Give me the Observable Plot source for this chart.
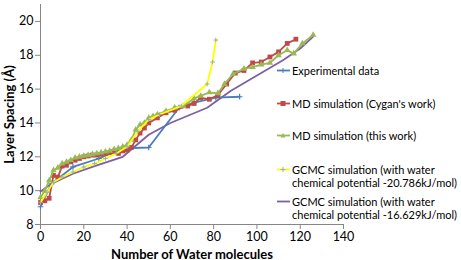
<!DOCTYPE html>
<html><head><meta charset="utf-8">
<script src="https://cdn.jsdelivr.net/npm/d3@7"></script>
<script src="https://cdn.jsdelivr.net/npm/@observablehq/plot@0.6"></script>
<style>
body{margin:0;background:#fff;font-family:Lato,"Open Sans",sans-serif;}
#wrap{position:relative;width:461px;height:260px;overflow:hidden;}
#wrap svg{position:absolute;left:0;top:0;}
svg [aria-label="x-axis label"], svg [aria-label="y-axis label"]{font-weight:bold;font-size:13px;}
svg [aria-label="x-axis tick label"], svg [aria-label="y-axis tick label"]{font-size:12.5px;}
.leg{position:absolute;left:276px;font-size:11px;color:#000;line-height:13px;white-space:nowrap;}
.leg svg{position:absolute;left:0;top:0;}
.leg span{position:absolute;left:16px;top:0;}
</style></head><body><div id="wrap"></div>
<script>
// ---- data ----
const xTicks = [0, 20, 40, 60, 80, 100, 120, 140];
const yTicks = [8, 10, 12, 14, 16, 18, 20];

const expX = [0, 5, 15, 27, 38, 50, 64, 71, 81, 92];
const expY = [9.05, 10.4, 11.4, 11.9, 12.5, 12.55, 14.9, 15.2, 15.5, 15.55];

const cygX = [0, 2, 4, 6, 8, 10, 12, 14, 16, 18, 20, 22, 24, 26, 28, 30, 32, 34, 36, 38, 40, 42, 44, 46, 48, 50, 54, 58, 62, 68, 71, 74, 78, 82, 86, 90, 94, 98, 102, 106, 110, 114, 118];
const cygY = [9.3, 9.4, 9.55, 10.9, 10.8, 11.45, 11.5, 11.7, 11.8, 11.9, 12.0, 12.05, 12.1, 12.1, 12.15, 12.2, 12.25, 12.3, 12.2, 12.35, 12.4, 12.55, 13.0, 13.4, 13.7, 14.0, 14.3, 14.6, 14.75, 15.0, 15.15, 15.5, 15.4, 15.65, 16.3, 16.95, 17.1, 17.55, 17.6, 17.9, 18.2, 18.7, 18.95];

const mdX = [0, 2, 4, 6, 8, 10, 12, 14, 16, 18, 20, 22, 24, 26, 28, 30, 32, 34, 36, 38, 40, 42, 44, 46, 48, 50, 52, 54, 58, 62, 66, 71, 74, 78, 82, 85, 89, 94, 98, 102, 106, 110, 114, 117, 121, 126];
const mdY = [9.6, 10.0, 10.6, 11.2, 11.35, 11.6, 11.7, 11.8, 11.95, 12.0, 12.05, 12.1, 12.15, 12.2, 12.25, 12.3, 12.35, 12.45, 12.5, 12.6, 12.7, 13.0, 13.6, 13.9, 14.0, 14.3, 14.4, 14.5, 14.7, 14.9, 15.0, 15.45, 15.6, 15.8, 15.75, 16.3, 16.9, 17.2, 17.3, 17.45, 17.55, 18.0, 18.3, 18.1, 18.7, 19.2];

const g1X = [0, 3, 6, 10, 15, 20, 25, 30, 35, 40, 45, 50, 55, 65, 77, 79.5, 81];
const g1Y = [9.3, 9.9, 10.5, 10.8, 11.1, 11.4, 11.6, 11.9, 12.2, 12.6, 13.5, 14.2, 14.5, 15.0, 16.3, 17.6, 18.9];

const g2X = [0, 5, 10, 15, 25, 38, 50, 60, 77, 88, 100, 112, 120, 126];
const g2Y = [9.95, 10.4, 10.7, 11.0, 11.45, 12.0, 13.3, 14.0, 14.9, 15.9, 16.8, 17.7, 18.4, 19.1];

const seriesNames = ["Experimental data", "MD simulation (Cygan's work)", "MD simulation (this work)",
  "GCMC simulation (with water\nchemical potential -20.786kJ/mol)",
  "GCMC simulation (with water\nchemical potential -16.629kJ/mol)"];
const seriesColors = ["#4A7EBB", "#BE4B48", "#98B954", "#FFFF00", "#7D60A0"];

// ---- build ----
const toRows = (xs, ys) => xs.map((x, i) => ({x, y: ys[i]}));
const exp = toRows(expX, expY), cyg = toRows(cygX, cygY), md = toRows(mdX, mdY),
      g1 = toRows(g1X, g1Y), g2 = toRows(g2X, g2Y);
const axisColor = "#868686";

const chart = Plot.plot({
  width: 461, height: 260,
  marginLeft: 40, marginRight: 118, marginTop: 4, marginBottom: 36,
  style: {fontFamily: "Lato, 'Open Sans', sans-serif", background: "transparent", color: "#000"},
  x: {domain: [0, 140]},
  y: {domain: [8, 21]},
  marks: [
    Plot.axisX({ticks: xTicks, tickSize: 5, tickPadding: 3, stroke: axisColor,
      label: "Number of Water molecules", labelAnchor: "center", labelArrow: "none", labelOffset: 34}),
    Plot.axisY({ticks: yTicks, tickSize: 5, tickPadding: 2, stroke: axisColor,
      label: "Layer Spacing (Å)", labelAnchor: "center", labelArrow: "none", labelOffset: 36}),
    Plot.ruleX([0], {stroke: axisColor}),
    Plot.ruleY([8], {stroke: axisColor}),
    Plot.line(g2, {x: "x", y: "y", stroke: seriesColors[4], strokeWidth: 1.8}),
    Plot.line(exp, {x: "x", y: "y", stroke: seriesColors[0], strokeWidth: 1.8}),
    Plot.dot(exp, {x: "x", y: "y", symbol: "plus", r: 2, stroke: seriesColors[0], strokeWidth: 1.2}),
    Plot.line(cyg, {x: "x", y: "y", stroke: seriesColors[1], strokeWidth: 1.8}),
    Plot.dot(cyg, {x: "x", y: "y", symbol: "square", r: 2.7, fill: seriesColors[1], stroke: "none"}),
    Plot.line(md, {x: "x", y: "y", stroke: seriesColors[2], strokeWidth: 1.8}),
    Plot.dot(md, {x: "x", y: "y", symbol: "triangle", r: 2.4, fill: seriesColors[2], stroke: "none"}),
    Plot.line(g1, {x: "x", y: "y", stroke: seriesColors[3], strokeWidth: 1.8}),
    Plot.dot(g1, {x: "x", y: "y", symbol: "plus", r: 1.6, stroke: "#9DB0A0", strokeWidth: 1})
  ]
});
const wrap = document.getElementById("wrap");
wrap.appendChild(chart);

// ---- legend ----
const legTops = [64, 97, 129, 163, 195];
const legMarkers = ["plus", "square", "triangle", "plus", null];
seriesNames.forEach((name, i) => {
  const d = document.createElement("div");
  d.className = "leg";
  d.style.top = legTops[i] + "px";
  const lines = name.split("\n");
  d.style.height = (lines.length * 13) + "px";
  let mk = "";
  const c = seriesColors[i];
  if (legMarkers[i] === "square") mk = `<rect x="4.5" y="4" width="5" height="5" fill="${c}"/>`;
  else if (legMarkers[i] === "triangle") mk = `<path d="M7,4 L9.5,8.5 L4.5,8.5Z" fill="${c}"/>`;
  else if (legMarkers[i] === "plus") mk = `<path d="M7,4V9M4.5,6.5H9.5" stroke="${i===3?'#9DB0A0':c}" stroke-width="1"/>`;
  d.innerHTML = `<svg width="16" height="13"><line x1="1" x2="14" y1="6.5" y2="6.5" stroke="${c}" stroke-width="1.8"/>${mk}</svg>` +
    `<span>${lines.join("<br>")}</span>`;
  wrap.appendChild(d);
});
</script></body></html>
